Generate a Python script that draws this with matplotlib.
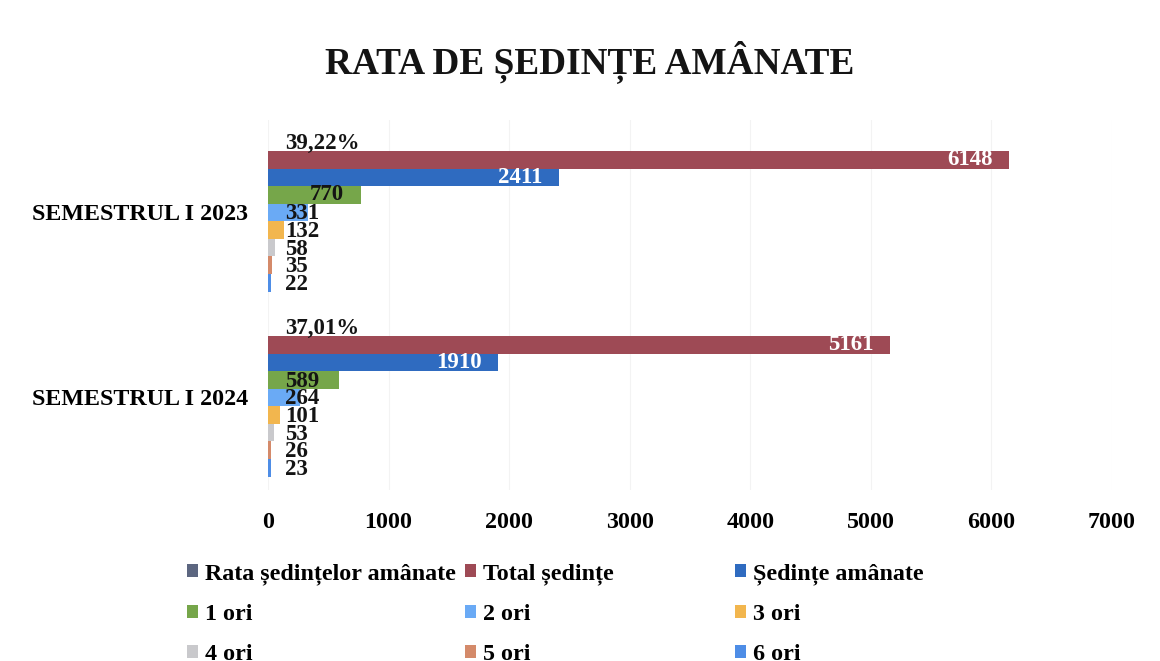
import numpy as np
import matplotlib
matplotlib.use("Agg")
import matplotlib.pyplot as plt
import matplotlib.patches as mpatches

# ---- data ----
CATEGORIES = ["SEMESTRUL I 2023", "SEMESTRUL I 2024"]
SERIES = ["Rata ședințelor amânate", "Total ședințe", "Ședințe amânate",
          "1 ori", "2 ori", "3 ori", "4 ori", "5 ori", "6 ori"]
RATA = [0.3922, 0.3701]
TOTAL = [6148, 5161]
AMANATE = [2411, 1910]
ORI_1 = [770, 589]
ORI_2 = [331, 264]
ORI_3 = [132, 101]
ORI_4 = [58, 53]
ORI_5 = [35, 26]
ORI_6 = [22, 23]
X_TICKS = [0, 1000, 2000, 3000, 4000, 5000, 6000, 7000]

COLORS = ["#5c6680", "#9e4a55", "#2f6bc0", "#76a64a", "#6aaaf5",
          "#f2b64e", "#c9c9cc", "#d48a6a", "#4e8de6"]
LABEL_COLORS = ["#141414", "white", "white"] + ["#141414"] * 6

plt.rcParams.update({
    "font.family": ["Liberation Serif", "DejaVu Serif"],
    "font.weight": "bold",
})

fig = plt.figure(figsize=(11.6, 6.61), dpi=100)
ax = fig.add_axes([0.231, 0.2587, 0.7276, 0.5598])

values = [RATA, TOTAL, AMANATE, ORI_1, ORI_2, ORI_3, ORI_4, ORI_5, ORI_6]
n = len(SERIES)
h = 0.095
cat_pos = np.arange(len(CATEGORIES))

for i, (name, vals) in enumerate(zip(SERIES, values)):
    ypos = cat_pos + (i - (n - 1) / 2) * h
    ax.barh(ypos, vals, height=h, color=COLORS[i], label=name, zorder=2)
    for y, v in zip(ypos, vals):
        if i == 0:
            txt = f"{v * 100:.2f}%".replace(".", ",")
        else:
            txt = f"{v}"
        # big bars: label inside end; small bars: label just right of the axis
        if v > 700:
            ax.annotate(txt, (v, y), xytext=(-12, 0), textcoords="offset points",
                        ha="right", va="center", fontsize=16.5,
                        color=LABEL_COLORS[i], zorder=4)
        else:
            ax.annotate(txt, (0, y), xytext=(12, -1), textcoords="offset points",
                        ha="left", va="center", fontsize=16.5,
                        color=LABEL_COLORS[i], zorder=4)

ax.set_xlim(0, 7000)
ax.set_ylim(1.5, -0.5)
ax.set_xticks(X_TICKS)
ax.set_xticklabels([str(t) for t in X_TICKS], fontsize=17.3)
ax.set_yticks(cat_pos)
ax.set_yticklabels(CATEGORIES, fontsize=17.3)
ax.tick_params(axis="x", length=0, pad=16)
ax.tick_params(axis="y", length=0, pad=14)
ax.xaxis.grid(True, color="#f3f3f3", linewidth=0.8, zorder=0)
ax.set_axisbelow(True)
for s in ax.spines.values():
    s.set_visible(False)

fig.text(0.508, 1 - 62 / 661, "RATA DE ȘEDINȚE AMÂNATE", ha="center", va="center",
         fontsize=26.8, fontweight="bold", color="#141414")

# legend: three columns placed like the reference
col_x = [187 / 1160, 465 / 1160, 735 / 1160]
for c in range(3):
    handles = [mpatches.Patch(facecolor=COLORS[c + 3 * r], edgecolor="none",
                              label=SERIES[c + 3 * r]) for r in range(3)]
    fig.legend(handles=handles, loc="upper left",
               bbox_to_anchor=(col_x[c], 1 - 563 / 661),
               frameon=False, fontsize=17.3, handlelength=0.45, handleheight=0.45,
               handletextpad=0.3, labelspacing=0.8, borderpad=0, borderaxespad=0)

fig.savefig("out.png", dpi=100)
